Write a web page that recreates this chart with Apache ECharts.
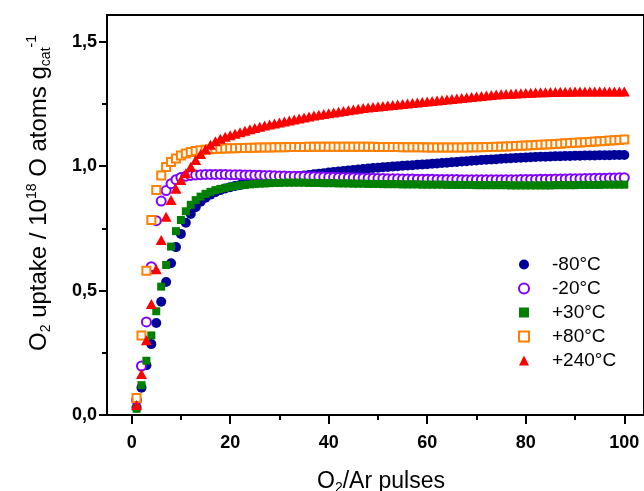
<!DOCTYPE html>
<html><head><meta charset="utf-8">
<script src="https://cdn.jsdelivr.net/npm/echarts@6/dist/echarts.min.js"></script>
<style>html,body{margin:0;padding:0;background:#fff}#c{width:644px;height:491px}</style>
</head><body><div id="c"></div>
<script>
// ---- data ----
const pulses = [1,2,3,4,5,6,7,8,9,10,11,12,13,14,15,16,17,18,19,20,
21,22,23,24,25,26,27,28,29,30,31,32,33,34,35,36,37,38,39,40,
41,42,43,44,45,46,47,48,49,50,51,52,53,54,55,56,57,58,59,60,
61,62,63,64,65,66,67,68,69,70,71,72,73,74,75,76,77,78,79,80,
81,82,83,84,85,86,87,88,89,90,91,92,93,94,95,96,97,98,99,100];

const seriesNames = ['-80°C','-20°C','+30°C','+80°C','+240°C'];

const m80 = [0.03,0.11,0.20,0.285,0.37,0.455,0.535,0.61,0.675,0.728,
0.773,0.808,0.835,0.857,0.873,0.886,0.896,0.904,0.911,0.916,
0.921,0.925,0.929,0.933,0.937,0.940,0.944,0.947,0.950,0.953,
0.955,0.957,0.959,0.961,0.963,0.965,0.968,0.970,0.972,0.975,
0.977,0.979,0.981,0.983,0.985,0.987,0.989,0.991,0.993,0.994,
0.996,0.997,0.999,1.000,1.002,1.003,1.004,1.006,1.007,1.008,
1.010,1.011,1.013,1.014,1.016,1.017,1.019,1.020,1.022,1.023,
1.025,1.026,1.027,1.028,1.030,1.031,1.032,1.033,1.034,1.035,
1.036,1.037,1.038,1.038,1.039,1.040,1.040,1.041,1.041,1.042,
1.042,1.043,1.043,1.043,1.044,1.044,1.044,1.045,1.045,1.045];

const m20 = [0.06,0.197,0.374,0.596,0.781,0.86,0.902,0.93,0.946,0.955,
0.960,0.963,0.965,0.966,0.967,0.967,0.967,0.967,0.967,0.966,
0.966,0.966,0.965,0.965,0.964,0.964,0.963,0.963,0.962,0.961,
0.961,0.960,0.960,0.959,0.959,0.958,0.958,0.957,0.957,0.956,
0.956,0.955,0.955,0.954,0.954,0.953,0.953,0.952,0.952,0.951,
0.951,0.950,0.950,0.950,0.949,0.949,0.949,0.948,0.948,0.948,
0.948,0.947,0.947,0.947,0.947,0.947,0.946,0.946,0.946,0.946,
0.946,0.946,0.946,0.946,0.946,0.946,0.946,0.946,0.947,0.947,
0.947,0.947,0.948,0.948,0.948,0.949,0.949,0.949,0.950,0.950,
0.950,0.951,0.951,0.952,0.952,0.952,0.953,0.953,0.954,0.954];

const p30 = [0.025,0.12,0.218,0.32,0.417,0.516,0.603,0.677,0.739,0.784,
0.819,0.845,0.864,0.878,0.889,0.897,0.904,0.909,0.913,0.917,
0.920,0.923,0.925,0.927,0.929,0.930,0.931,0.932,0.933,0.933,
0.934,0.934,0.934,0.934,0.934,0.933,0.933,0.933,0.932,0.932,
0.932,0.931,0.931,0.931,0.930,0.930,0.930,0.929,0.929,0.929,
0.928,0.928,0.928,0.928,0.927,0.927,0.927,0.927,0.926,0.926,
0.926,0.926,0.926,0.925,0.925,0.925,0.925,0.925,0.925,0.924,
0.924,0.924,0.924,0.924,0.924,0.924,0.923,0.923,0.923,0.923,
0.923,0.923,0.923,0.923,0.923,0.924,0.924,0.924,0.924,0.924,
0.925,0.925,0.925,0.925,0.925,0.926,0.926,0.926,0.926,0.926];

const p80 = [0.068,0.32,0.58,0.784,0.905,0.963,0.997,1.017,1.031,1.043,
1.051,1.057,1.061,1.064,1.066,1.068,1.069,1.070,1.071,1.072,
1.072,1.073,1.073,1.074,1.074,1.075,1.075,1.075,1.076,1.076,
1.076,1.077,1.077,1.077,1.077,1.078,1.078,1.078,1.078,1.078,
1.078,1.078,1.078,1.078,1.078,1.078,1.078,1.078,1.078,1.077,
1.077,1.077,1.077,1.077,1.076,1.076,1.076,1.076,1.076,1.075,
1.075,1.075,1.075,1.075,1.075,1.075,1.075,1.075,1.076,1.076,
1.076,1.077,1.077,1.078,1.078,1.079,1.080,1.081,1.082,1.083,
1.084,1.085,1.086,1.087,1.088,1.089,1.090,1.092,1.093,1.094,
1.095,1.096,1.097,1.099,1.100,1.101,1.103,1.104,1.106,1.108];

const p240 = [0.04,0.165,0.30,0.446,0.586,0.704,0.797,0.864,0.91,0.945,
0.972,0.998,1.025,1.049,1.068,1.086,1.100,1.111,1.119,1.125,
1.131,1.137,1.143,1.149,1.154,1.159,1.164,1.168,1.172,1.176,
1.180,1.184,1.188,1.192,1.196,1.200,1.204,1.207,1.210,1.213,
1.216,1.219,1.222,1.225,1.228,1.231,1.234,1.236,1.238,1.240,
1.242,1.244,1.246,1.248,1.250,1.252,1.254,1.256,1.258,1.260,
1.262,1.264,1.266,1.268,1.270,1.272,1.274,1.276,1.278,1.280,
1.282,1.284,1.286,1.288,1.289,1.290,1.291,1.292,1.293,1.294,
1.295,1.296,1.297,1.297,1.298,1.298,1.299,1.299,1.299,1.300,
1.300,1.300,1.300,1.300,1.300,1.300,1.300,1.300,1.300,1.300];

const xMajorTicks = [0,20,40,60,80,100];
const xMinorTicks = [10,30,50,70,90];
const yMajorTicks = [0,0.5,1.0,1.5];
const yMinorTicks = [0.25,0.75,1.25];

// ---- chart ----
const FONT = '"Liberation Sans", Arial, Helvetica, sans-serif';
const chart = echarts.init(document.getElementById('c'), null, {renderer:'canvas'});

function mk(ys){ return pulses.map((x,i)=>[x, ys[i]]); }
const allY = [m80, m20, p30, p80, p240];
const colors = ['#000099','#8000FF','#008000','#FF8000','#FF0000'];
const symbols = ['circle','emptyCircle','rect','emptyRect','triangle'];
const sizes = [10, 9, 8, 8, [11,10]];

const gridBox = {left:107, top:15, width:540, height:400};
const black = '#000';
const X_MIN = -5, X_MAX = 104, Y_MIN = 0, Y_MAX = 1.608;
const lineSt = {color:black, width:2};

const series = seriesNames.map((n,i)=>({
  name:n, type:'scatter', data: mk(allY[i]),
  xAxisIndex:0, yAxisIndex:0,
  symbol: symbols[i], symbolSize: sizes[i],
  itemStyle: symbols[i].indexOf('empty')===0
    ? {color: colors[i], borderColor: colors[i], borderWidth: 1.3, opacity:1}
    : {color: colors[i], opacity:1},
  emphasis:{disabled:true},
  z: 2 + i
}));

const subStyle = {fontSize:14, lineHeight:12, verticalAlign:'bottom', fontFamily:FONT, fill:'#000'};
const supStyle = {fontSize:14, lineHeight:15, verticalAlign:'top', fontFamily:FONT, fill:'#000'};

const option = {
  animation:false,
  backgroundColor:'#fff',
  grid: [
    Object.assign({show:true, borderColor:black, borderWidth:2, backgroundColor:'transparent'}, gridBox),
    Object.assign({show:false}, gridBox)
  ],
  xAxis: [
    {type:'value', gridIndex:0, min:X_MIN, max:X_MAX, position:'bottom',
     axisLine:{show:true, onZero:false, lineStyle:lineSt},
     axisTick:{show:true, inside:false, length:9, customValues:xMajorTicks, lineStyle:lineSt},
     axisLabel:{show:true, customValues:xMajorTicks, margin:19, color:black, fontFamily:FONT, fontWeight:'bold', fontSize:18},
     splitLine:{show:false}},
    {type:'value', gridIndex:1, min:X_MIN, max:X_MAX, position:'bottom',
     axisLine:{show:true, onZero:false, lineStyle:lineSt},
     axisTick:{show:true, inside:false, length:5, customValues:xMinorTicks, lineStyle:lineSt},
     axisLabel:{show:false}, splitLine:{show:false}}
  ],
  yAxis: [
    {type:'value', gridIndex:0, min:Y_MIN, max:Y_MAX, position:'left',
     axisLine:{show:true, onZero:false, lineStyle:lineSt},
     axisTick:{show:true, inside:false, length:8, customValues:yMajorTicks, lineStyle:lineSt},
     axisLabel:{show:true, customValues:yMajorTicks, margin:10, color:black, fontFamily:FONT, fontWeight:'bold', fontSize:18,
       formatter: v => v.toFixed(1).replace('.', ',')},
     splitLine:{show:false}},
    {type:'value', gridIndex:1, min:Y_MIN, max:Y_MAX, position:'left',
     axisLine:{show:true, onZero:false, lineStyle:lineSt},
     axisTick:{show:true, inside:false, length:5, customValues:yMinorTicks, lineStyle:lineSt},
     axisLabel:{show:false}, splitLine:{show:false}}
  ],
  legend: {
    orient:'vertical', left:513, top:250, itemWidth:10, itemHeight:10, itemGap:5,
    selectedMode:false,
    textStyle:{fontFamily:FONT, fontSize:19, color:black, lineHeight:19, padding:[0,0,0,18]},
    data: seriesNames
  },
  graphic: [
    {type:'text', x:381, y:482, silent:true,
     style:{text:'O{sub|2}/Ar pulses', fontFamily:FONT, fontSize:23, lineHeight:27, fill:'#000',
       align:'center', verticalAlign:'middle', rich:{sub:subStyle}}},
    {type:'text', x:39, y:193, rotation:Math.PI/2, silent:true,
     style:{text:'O{sub|2} uptake / 10{sup|18} O atoms g{sub|cat}{sup|-1}', fontFamily:FONT, fontSize:24, lineHeight:28, fill:'#000',
       align:'center', verticalAlign:'middle', rich:{sub:subStyle, sup:supStyle}}}
  ],
  series: series
};
chart.setOption(option);
</script>
</body></html>
